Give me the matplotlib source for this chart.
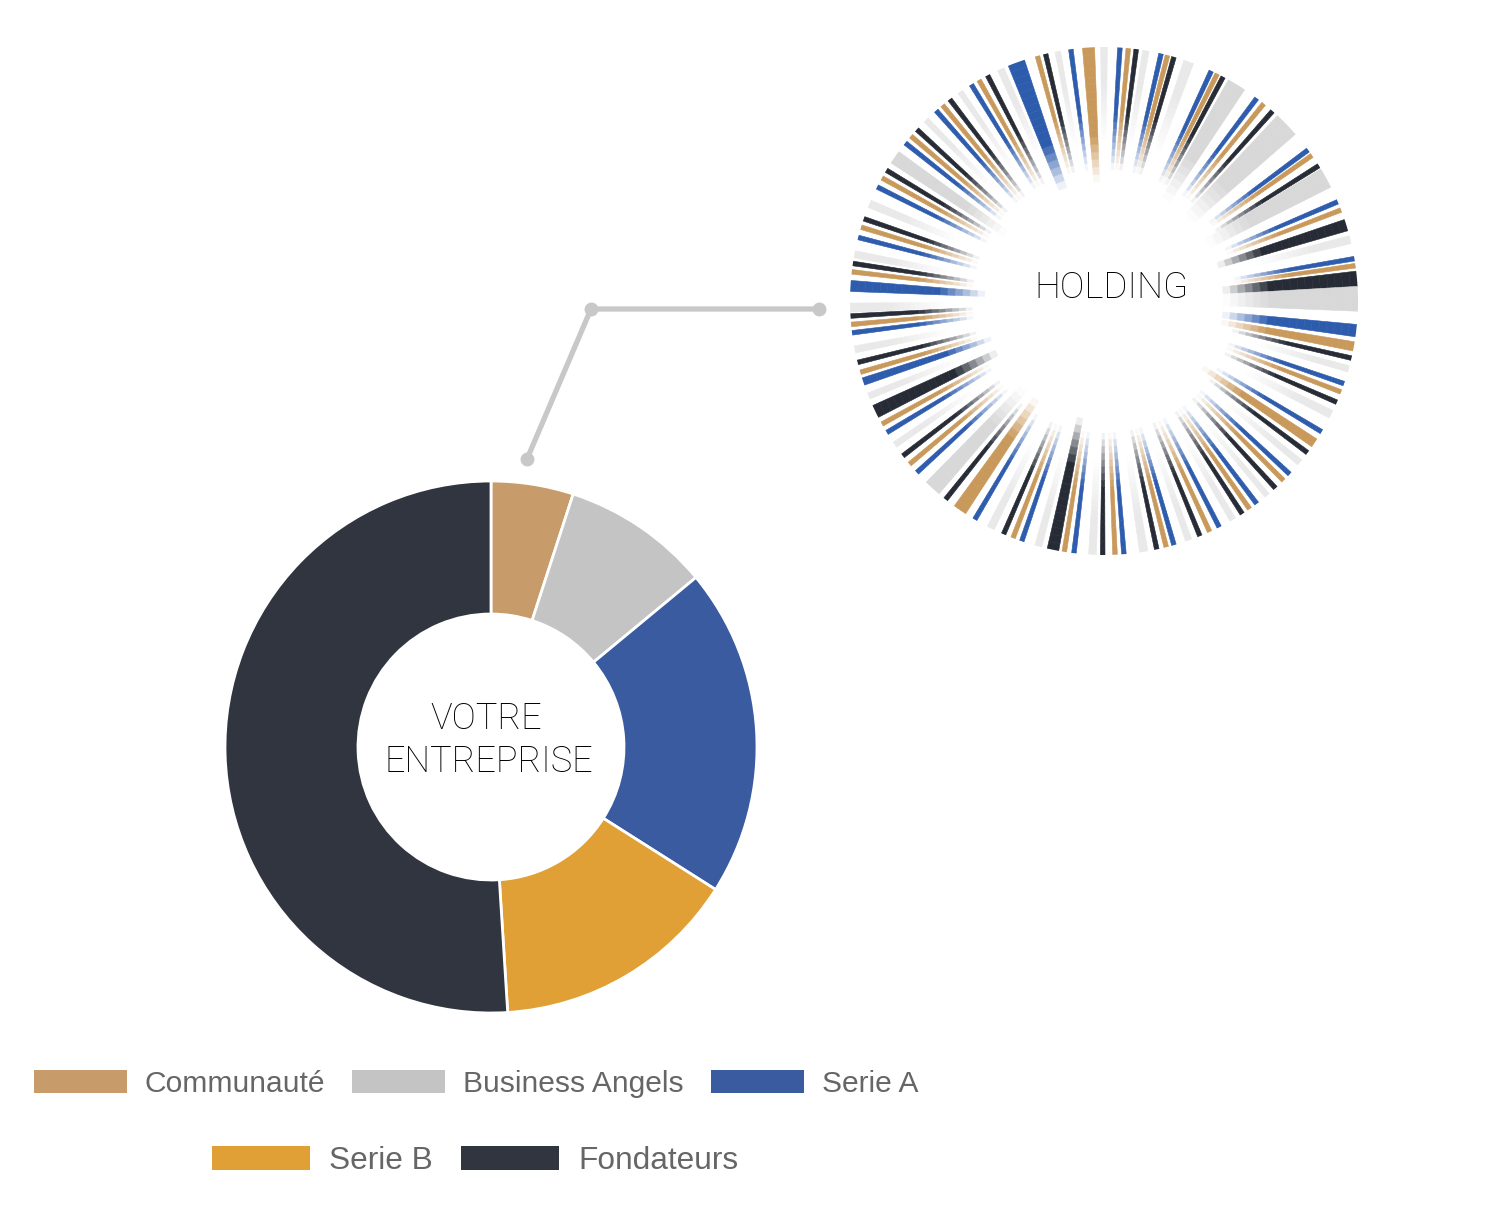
import numpy as np
import matplotlib
matplotlib.use("Agg")
import matplotlib.pyplot as plt
from matplotlib.patches import Patch
from matplotlib.colors import to_rgb

# ---------------- data ----------------
categories = ["Communauté", "Business Angels", "Serie A", "Serie B", "Fondateurs"]
shares = [5, 9, 20, 15, 51]
colors = ["#C89B6A", "#C4C4C4", "#3A5BA0", "#E0A035", "#30353F"]

# holding: one code per holder (b=Serie A, t=Communauté, d=Fondateurs, g=Business Angels;
# upper case = larger holder), clockwise from the top
holding_codes = list(
    "gbtdgbtdgbtdGbtdGbtdGbtDgbtDGBTdgbtdgbTdgbtdgbtdgbtdgbtdgbtdgbtDgbtdgbTdGbtdgbtDgBtdgbtdgBtdgbtdgbtdGbtdgbtdgbtdgBtdgbT"
)
holding_share = [
    3.6, 1.9, 1.8, 2.2, 3.5, 1.5, 1.5, 3.5, 5.5, 1.5, 1.5, 3.5, 5.5, 2.0, 2.6, 4.4,
    7.5, 1.5, 2.8, 3.2, 6.0, 2.0, 3.6, 3.4, 4.4, 1.6, 3.0, 4.5, 7.2, 3.6, 2.7, 2.5,
    3.5, 2.0, 2.5, 3.0, 4.5, 3.0, 2.7, 2.8, 3.5, 2.0, 2.5, 2.5, 3.0, 2.0, 2.0, 2.5,
    3.5, 2.4, 2.4, 2.7, 3.5, 1.8, 2.2, 3.0, 4.5, 2.0, 2.8, 2.3, 4.2, 2.2, 2.6, 3.4,
    3.9, 2.1, 2.3, 3.2, 4.1, 4.0, 4.0, 3.9, 5.0, 2.5, 2.4, 3.1, 3.3, 2.2, 3.2, 3.8,
    3.5, 2.2, 2.3, 3.0, 3.8, 1.9, 1.9, 1.9, 4.9, 3.2, 1.9, 2.1, 3.9, 2.4, 2.0, 3.6,
    4.2, 2.3, 2.0, 3.5, 4.0, 2.0, 2.0, 3.0, 3.1, 1.9, 2.1, 2.9, 3.0, 2.0, 2.2, 3.3,
    3.8, 5.0, 1.9, 2.8, 3.0, 4.0, 3.5,
]
n = min(len(holding_codes), len(holding_share))
holding_codes = holding_codes[:n]
holding_share = holding_share[:n]

legend_row1 = categories[:3]
legend_row2 = categories[3:]

# ---------------- figure ----------------
W, H = 1500, 1224
fig = plt.figure(figsize=(W / 100, H / 100), dpi=100)
fig.patch.set_facecolor("white")
ax = fig.add_axes([0, 0, 1, 1])

def Y(y):
    return H - y

# donut
cx, cy = 491, 747
ax.pie(shares, colors=colors, startangle=90, counterclock=False,
       center=(cx, Y(cy)), radius=266,
       wedgeprops=dict(width=133, edgecolor="white", linewidth=2))
ax.set_xlim(0, W)
ax.set_ylim(0, H)
ax.set_aspect("equal")
ax.axis("off")

txt_kw = dict(family=["Roboto", "DejaVu Sans"], fontweight="light", color="#000000")
ax.text(486, Y(719), "VOTRE", ha="center", va="center", fontsize=26, **txt_kw)
ax.text(489, Y(762), "ENTREPRISE", ha="center", va="center", fontsize=26, **txt_kw)
ax.text(1111, Y(288), "HOLDING", ha="center", va="center", fontsize=26.5, **txt_kw)

# connector
px = [527, 591, 819]
py = [Y(459), Y(309), Y(309)]
ax.plot(px, py, color="#C8C8C8", lw=3.8, solid_capstyle="round",
        solid_joinstyle="round", zorder=1)
ax.plot(px, py, "o", color="#C8C8C8", ms=9, zorder=2)

# holding radial chart
hx, hy, hr = 1104, 301, 254
pax = fig.add_axes([(hx - hr) / W, (H - hy - hr) / H, 2 * hr / W, 2 * hr / H],
                   projection="polar")
pax.set_theta_zero_location("N")
pax.set_theta_direction(-1)
pax.set_ylim(0, 1)
pax.axis("off")

hcol = {"b": "#2E5CAD", "t": "#C9995B", "d": "#262B35", "g": "#D8D8D8"}
sh = np.array(holding_share, dtype=float)
sh = sh / sh.sum() * 2 * np.pi
starts = np.concatenate([[0], np.cumsum(sh)[:-1]])
nseg = 18
white = np.array([1.0, 1.0, 1.0])
for code, th, s in zip(holding_codes, starts, sh):
    base = np.array(to_rgb(hcol[code.lower()]))
    wide = code.isupper()
    if wide:
        w = s * 0.78
        r_in = 0.47
        fade = 0.35
    elif code == "g":
        base = np.array(to_rgb("#E9E9E9"))
        w = s * 0.42
        r_in = 0.62
        fade = 0.6
    else:
        w = np.deg2rad(1.05)
        r_in = 0.52
        fade = 0.45
    edges = np.linspace(r_in, 1.0, nseg + 1)
    for k in range(nseg):
        f = (k + 0.5) / nseg
        a = float(np.clip(f / fade, 0.04, 1.0))
        c = tuple(white * (1 - a) + base * a)
        pax.bar(th, edges[k + 1] - edges[k], width=w, bottom=edges[k],
                color=c, edgecolor=c, linewidth=0.4, align="center")

# legend
def handles(names):
    return [Patch(facecolor=colors[categories.index(nm)], edgecolor="none") for nm in names]

leg_kw = dict(frameon=False, handlelength=3.1, handleheight=0.8,
              handletextpad=0.6, columnspacing=0.9, borderpad=0, borderaxespad=0,
              labelcolor="#666666", loc="center")
l1 = fig.legend(handles(legend_row1), legend_row1, ncol=3,
                prop={"family": ["Liberation Sans", "DejaVu Sans"], "size": 21.6},
                bbox_to_anchor=(476 / W, 1 - 1084 / H), **leg_kw)
l2 = fig.legend(handles(legend_row2), legend_row2, ncol=2,
                prop={"family": ["Liberation Sans", "DejaVu Sans"], "size": 22.8},
                bbox_to_anchor=(475 / W, 1 - 1161 / H), **leg_kw)

fig.savefig("out.png", dpi=100, facecolor="white")
